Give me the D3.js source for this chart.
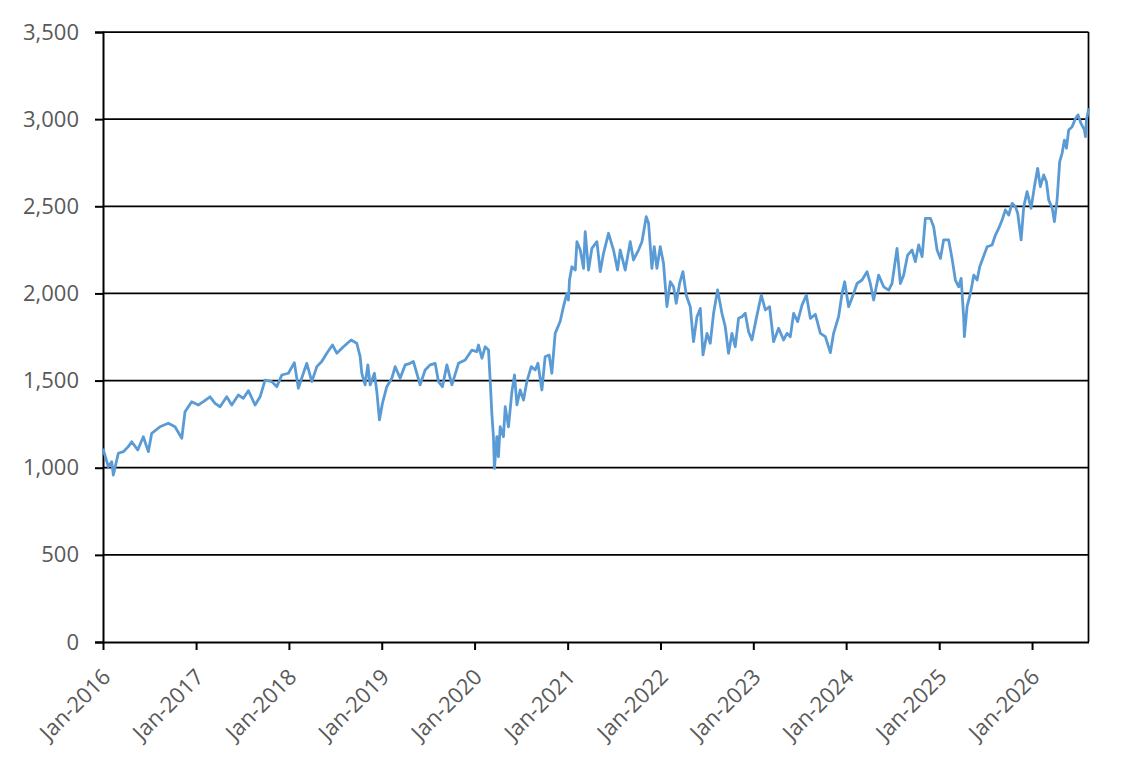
<!DOCTYPE html>
<html>
<head>
<meta charset="utf-8">
<script src="https://cdn.jsdelivr.net/npm/d3@7"></script>
<style>
  html, body { margin: 0; padding: 0; background: #fff; }
  svg { display: block; }
  text { font-family: "Open Sans", "Liberation Sans", sans-serif; fill: #595959; }
</style>
</head>
<body>
<svg id="chart" width="1144" height="769"></svg>
<script>
// ---- data ----
// time as years elapsed since 1 Jan 2016
const yearOffsets = [
  0.000,0.057,0.094,0.111,0.165,0.219,0.272,0.309,0.374,0.434,0.488,0.524,0.614,0.703,0.775,0.848,0.883,0.955,
  1.026,1.080,1.152,1.206,1.260,1.332,1.386,1.457,1.511,1.565,1.637,1.691,1.745,1.817,1.871,1.925,1.996,
  2.060,2.103,2.157,2.194,2.248,2.302,2.355,2.409,2.470,2.517,2.588,2.671,2.732,2.768,2.786,2.822,2.851,2.876,2.922,2.948,2.976,
  3.008,3.055,3.109,3.145,3.199,3.253,3.306,3.342,3.414,3.468,3.522,3.576,3.611,3.654,3.702,3.756,3.827,3.899,3.971,
  4.025,4.042,4.079,4.114,4.150,4.168,4.186,4.203,4.214,4.240,4.257,4.276,4.311,4.330,4.365,4.402,4.430,4.456,4.491,4.527,4.563,4.610,4.653,4.682,4.725,4.760,4.803,4.832,4.868,4.922,4.957,4.994,
  5.011,5.022,5.048,5.084,5.102,5.138,5.173,5.191,5.227,5.263,5.317,5.353,5.388,5.442,5.496,5.539,5.568,5.622,5.676,5.711,5.765,5.802,5.848,5.873,5.909,5.934,5.963,5.999,
  6.034,6.071,6.107,6.142,6.171,6.207,6.243,6.279,6.322,6.357,6.394,6.430,6.459,6.502,6.537,6.573,6.616,6.663,6.699,6.734,6.771,6.806,6.842,6.879,6.914,6.950,6.986,
  7.033,7.087,7.130,7.176,7.219,7.273,7.327,7.363,7.399,7.435,7.478,7.525,7.572,7.615,7.669,7.723,7.776,7.830,7.865,7.919,7.956,7.984,
  8.027,8.081,8.117,8.171,8.225,8.260,8.296,8.350,8.404,8.458,8.494,8.548,8.584,8.619,8.662,8.710,8.745,8.781,8.818,8.853,8.907,8.942,8.979,
  9.015,9.050,9.104,9.140,9.176,9.212,9.238,9.265,9.273,9.302,9.338,9.374,9.410,9.438,9.518,9.571,9.607,9.642,9.679,9.714,9.750,9.787,9.822,9.847,9.884,9.912,9.948,9.991,
  10.027,10.062,10.091,10.127,10.156,10.181,10.219,10.242,10.271,10.299,10.325,10.350,10.372,10.396,10.433,10.469,10.496,10.528,10.565,10.576,10.587,10.612
];
const values = [
  1110,1006,1035,958,1083,1092,1121,1149,1102,1178,1092,1197,1235,1255,1235,1169,1321,1379,
  1360,1379,1407,1369,1350,1407,1360,1417,1398,1442,1360,1407,1503,1494,1465,1532,1542,
  1603,1456,1542,1599,1494,1580,1609,1657,1704,1657,1694,1733,1714,1637,1542,1475,1590,1475,1542,1436,1274,
  1369,1465,1513,1580,1513,1590,1599,1609,1475,1561,1590,1599,1494,1465,1590,1475,1599,1618,1675,
  1666,1704,1628,1694,1675,1503,1312,1178,996,1178,1063,1235,1178,1350,1235,1436,1532,1360,1446,1388,1494,1580,1561,1599,1446,1637,1647,1542,1771,1840,1924,2000,
  1962,2077,2153,2134,2297,2249,2144,2354,2134,2259,2297,2125,2230,2345,2249,2134,2249,2134,2297,2192,2249,2297,2440,2403,2144,2268,2144,2268,
  2173,1924,2067,2038,1943,2057,2125,1990,1924,1723,1866,1914,1647,1771,1714,1886,2020,1886,1809,1656,1771,1694,1857,1866,1886,1780,1733,
  1857,1991,1905,1924,1723,1800,1733,1771,1752,1886,1838,1933,1991,1857,1880,1771,1752,1660,1771,1867,2000,2067,
  1924,2000,2057,2077,2125,2057,1962,2105,2038,2019,2057,2259,2057,2105,2220,2249,2182,2278,2211,2431,2431,2383,2249,
  2201,2307,2307,2201,2077,2038,2086,1866,1752,1924,2000,2105,2077,2153,2268,2278,2335,2373,2421,2479,2450,2517,2498,2460,2307,2498,2584,2488,
  2613,2718,2613,2680,2641,2536,2488,2412,2536,2756,2804,2880,2833,2938,2957,3004,3024,2976,2938,2900,2995,3062
];
const yTicks = [0, 500, 1000, 1500, 2000, 2500, 3000, 3500];
const xTickYears = [2016, 2017, 2018, 2019, 2020, 2021, 2022, 2023, 2024, 2025, 2026];
const xStart = "2016-01-01";
const xEnd = "2026-08-11";

// ---- layout ----
const margin = { left: 103, right: 1144 - 1088.5, top: 32, bottom: 769 - 642 };
const width = 1144, height = 769;
const svg = d3.select("#chart");
const parse = d3.timeParse("%Y-%m-%d");
const t0 = parse(xStart);
const DAY = 86400000;
const data = yearOffsets.map((t, i) => ({ date: new Date(t0.getTime() + t * 365.25 * DAY), value: values[i] }));

const x = d3.scaleTime().domain([t0, parse(xEnd)]).range([margin.left, width - margin.right]);
const y = d3.scaleLinear().domain([0, 3500]).range([height - margin.bottom, margin.top]);

// gridlines
svg.append("g")
  .selectAll("line")
  .data(yTicks.filter(d => d > 0))
  .join("line")
  .attr("x1", margin.left).attr("x2", width - margin.right)
  .attr("y1", d => y(d)).attr("y2", d => y(d))
  .attr("stroke", "#000").attr("stroke-width", 1.75);

// right border
svg.append("line")
  .attr("x1", width - margin.right).attr("x2", width - margin.right)
  .attr("y1", y(3500)).attr("y2", y(0))
  .attr("stroke", "#000").attr("stroke-width", 1.75);

// y axis
const yAxis = d3.axisLeft(y).tickValues(yTicks).tickSize(8).tickPadding(16).tickFormat(d3.format(","));
const gy = svg.append("g").attr("transform", `translate(${margin.left},0)`).call(yAxis);
gy.selectAll("path, line").attr("stroke", "#000").attr("stroke-width", 2);
gy.selectAll("text").style("font-size", "22px").attr("fill", "#595959");

// x axis
const xTicks = xTickYears.map(yr => new Date(yr, 0, 1));
const xAxis = d3.axisBottom(x).tickValues(xTicks).tickSize(8).tickSizeOuter(0).tickFormat(d3.timeFormat("%b-%Y"));
const gx = svg.append("g").attr("transform", `translate(0,${height - margin.bottom})`).call(xAxis);
gx.select(".domain").attr("stroke", "#000").attr("stroke-width", 2);
gx.selectAll(".tick line").attr("stroke", "#000").attr("stroke-width", 2);
gx.selectAll(".tick text")
  .style("font-size", "22px")
  .attr("fill", "#595959")
  .attr("text-anchor", "end")
  .attr("x", 0).attr("y", 0).attr("dy", "0.35em")
  .attr("transform", "translate(3,31) rotate(-45)");

// line
const line = d3.line().x(d => x(d.date)).y(d => y(d.value));
svg.append("path")
  .datum(data)
  .attr("fill", "none")
  .attr("stroke", "#5B9BD5")
  .attr("stroke-width", 2.8)
  .attr("stroke-linejoin", "round")
  .attr("d", line);
</script>
</body>
</html>
